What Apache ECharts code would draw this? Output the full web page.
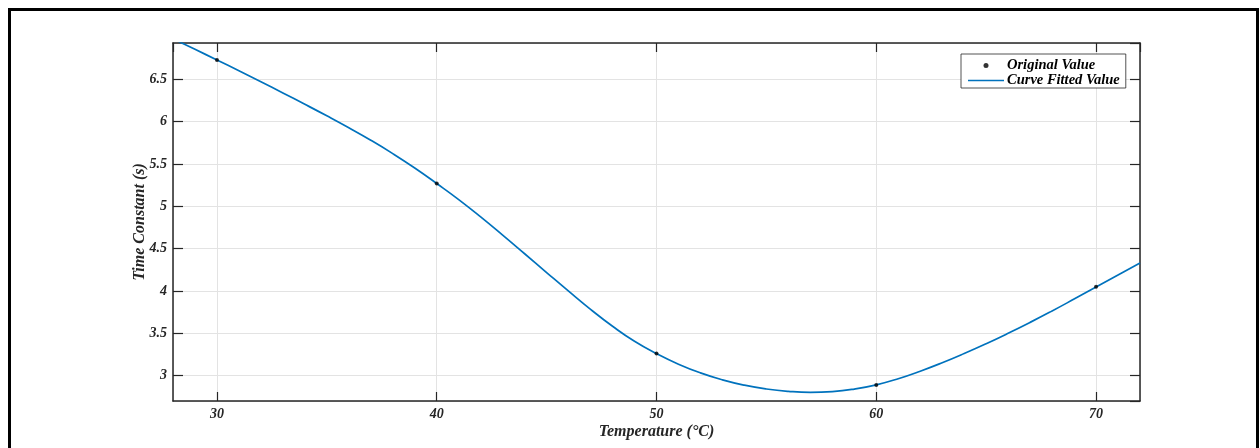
<!DOCTYPE html>
<html>
<head>
<meta charset="utf-8">
<script src="https://cdn.jsdelivr.net/npm/echarts@6/dist/echarts.min.js"></script>
<style>
html,body{margin:0;padding:0;background:#fff;}
#chart{width:1260px;height:448px;}
</style>
</head>
<body>
<div id="chart"></div>
<script>
// Measured points (Temperature °C, Time Constant s)
var origX = [30, 40, 50, 60, 70];
var origY = [6.73, 5.27, 3.26, 2.89, 4.05];

// Curve fitted values
var fitX = [28, 29, 30, 31, 32, 33, 34, 35, 36, 37, 38, 39, 40, 41, 42, 43, 44, 45, 46, 47, 48, 49, 50,
            51, 52, 53, 54, 55, 56, 57, 58, 59, 60, 61, 62, 63, 64, 65, 66, 67, 68, 69, 70, 71, 72];
var fitY = [6.980, 6.855, 6.730, 6.602, 6.472, 6.340, 6.206, 6.069, 5.928, 5.781, 5.623, 5.453, 5.270,
            5.080, 4.875, 4.660, 4.440, 4.218, 3.998, 3.783, 3.583, 3.405, 3.260, 3.135, 3.032, 2.950,
            2.887, 2.842, 2.814, 2.802, 2.811, 2.841, 2.891, 2.963, 3.052, 3.152, 3.261, 3.377, 3.500,
            3.629, 3.764, 3.904, 4.046, 4.188, 4.330];

var xMin = 28, xMax = 72;
var yMin = 2.7, yMax = 6.93;

var FONT = 'Liberation Serif';
var AXC = '#262626';

function pairs(xs, ys) { return xs.map(function (x, i) { return [x, ys[i]]; }); }

var chart = echarts.init(document.getElementById('chart'), null, {renderer: 'canvas'});

var labelStyle = {fontFamily: FONT, fontWeight: 'bold', fontStyle: 'italic', fontSize: 14, color: AXC};

var option = {
  animation: false,
  backgroundColor: '#fff',
  grid: {left: 173, top: 43, right: 120, bottom: 47, containLabel: false},
  graphic: [{
    type: 'rect', left: 7, top: 7, z: 100, silent: true,
    shape: {width: 1248, height: 470},
    style: {fill: 'none', stroke: '#000', lineWidth: 3}
  }],
  legend: {
    orient: 'vertical', left: 961, top: 54,
    backgroundColor: '#fff', borderColor: AXC, borderWidth: 0.8,
    padding: [4, 6, 0, 7], itemWidth: 36, itemHeight: 5, itemGap: 0,
    textStyle: {fontFamily: FONT, fontWeight: 'bold', fontStyle: 'italic', fontSize: 14.5, color: '#000', padding: [0, 0, 0, -2]},
    data: [
      {name: 'Original Value'},
      {name: 'Curve Fitted Value', icon: 'path://M0,0 L36,0 L36,1.6 L0,1.6 Z'}
    ]
  },
  xAxis: [{
    type: 'value', min: xMin, max: xMax, splitNumber: 4,
    name: 'Temperature (°C)', nameLocation: 'middle', nameGap: 23, nameMoveOverlap: false,
    nameTextStyle: {fontFamily: FONT, fontWeight: 'bold', fontStyle: 'italic', fontSize: 16, color: AXC},
    axisLine: {show: true, lineStyle: {color: AXC, width: 1.5}},
    axisTick: {show: true, inside: true, length: 9, lineStyle: {color: AXC, width: 1.2}},
    axisLabel: Object.assign({margin: 6, showMinLabel: false, showMaxLabel: false}, labelStyle),
    splitLine: {show: true, lineStyle: {color: '#e3e3e3', width: 1}}
  }, {
    type: 'value', position: 'top', min: xMin, max: xMax, splitNumber: 4,
    axisLine: {show: true, onZero: false, lineStyle: {color: AXC, width: 1.5}},
    axisTick: {show: true, inside: true, length: 9, lineStyle: {color: AXC, width: 1.2}},
    axisLabel: {show: false}, splitLine: {show: false}
  }],
  yAxis: [{
    type: 'value', min: yMin, max: yMax, splitNumber: 8,
    name: 'Time Constant (s)', nameLocation: 'middle', nameGap: 25, nameMoveOverlap: false,
    nameTextStyle: {fontFamily: FONT, fontWeight: 'bold', fontStyle: 'italic', fontSize: 16, color: AXC},
    axisLine: {show: true, onZero: false, lineStyle: {color: AXC, width: 1.5}},
    axisTick: {show: true, inside: true, length: 10, lineStyle: {color: AXC, width: 1.2}},
    axisLabel: Object.assign({margin: 6, showMinLabel: false, showMaxLabel: false}, labelStyle),
    splitLine: {show: true, lineStyle: {color: '#e3e3e3', width: 1}}
  }, {
    type: 'value', position: 'right', min: yMin, max: yMax, splitNumber: 8,
    axisLine: {show: true, onZero: false, lineStyle: {color: AXC, width: 1.5}},
    axisTick: {show: true, inside: true, length: 10, lineStyle: {color: AXC, width: 1.2}},
    axisLabel: {show: false}, splitLine: {show: false}
  }],
  series: [{
    name: 'Curve Fitted Value', type: 'line', smooth: true, symbol: 'none',
    xAxisIndex: 0, yAxisIndex: 0, clip: true, z: 2,
    lineStyle: {color: '#0072BD', width: 1.7},
    itemStyle: {color: '#0072BD'},
    data: pairs(fitX, fitY)
  }, {
    name: 'Original Value', type: 'scatter', symbol: 'circle', symbolSize: 4,
    xAxisIndex: 0, yAxisIndex: 0, z: 3,
    itemStyle: {color: '#000'},
    data: pairs(origX, origY)
  }]
};
chart.setOption(option);
</script>
</body>
</html>
